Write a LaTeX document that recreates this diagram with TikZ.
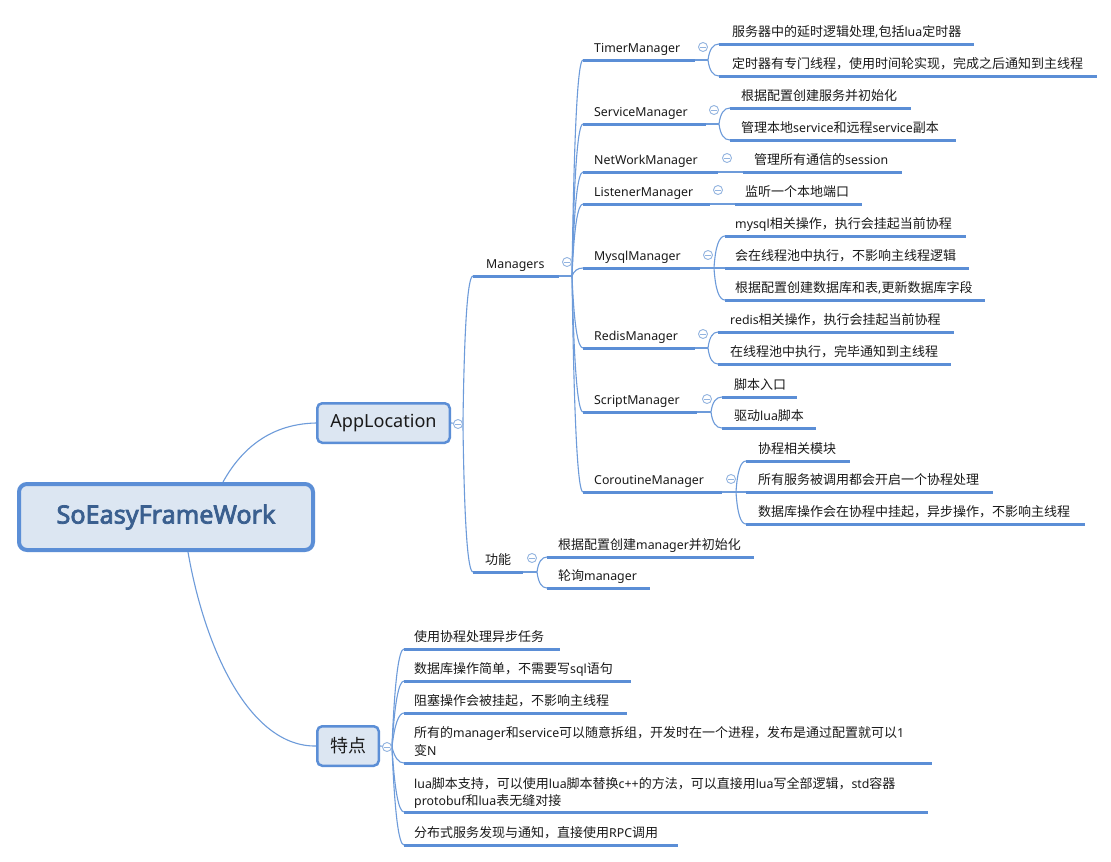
\documentclass[tikz,border=0pt]{standalone}
\usepackage{fontspec}
\usetikzlibrary{calc}
\setmainfont{Noto Sans}[Scale=0.95, AutoFakeBold=3]
\newfontfamily\cjkfont{Noto Sans CJK SC}
\XeTeXinterchartokenstate=1
\newXeTeXintercharclass\CJKcls
\makeatletter
\count@="3000 \loop\XeTeXcharclass\count@=\CJKcls\advance\count@\@ne\ifnum\count@<"3040 \repeat
\count@="4E00 \loop\XeTeXcharclass\count@=\CJKcls\advance\count@\@ne\ifnum\count@<"A000 \repeat
\count@="FF00 \loop\XeTeXcharclass\count@=\CJKcls\advance\count@\@ne\ifnum\count@<"FFF0 \repeat
\makeatother
\XeTeXinterchartoks 0 \CJKcls = {\begingroup\cjkfont}
\XeTeXinterchartoks 4095 \CJKcls = {\begingroup\cjkfont}
\XeTeXinterchartoks \CJKcls 0 = {\endgroup}
\XeTeXinterchartoks \CJKcls 4095 = {\endgroup}
\pgfdeclarelayer{back}
\pgfdeclarelayer{bg}
\pgfsetlayers{back,bg,main}
\definecolor{ulc}{HTML}{5B8ED6}
\definecolor{cnc}{HTML}{6D9BDA}
\definecolor{bxc}{HTML}{DCE6F2}
\definecolor{bdc}{HTML}{5B8ED6}
\definecolor{rtc}{HTML}{3A5F8F}
\definecolor{txc}{HTML}{1A1A1A}
\definecolor{clc}{HTML}{93B4E0}
\tikzset{
 ul/.style={draw=ulc, line width=3pt},
 conn/.style={draw=cnc, line width=1.1pt},
 lbl/.style={anchor=base west, inner sep=0pt, text=txc, font=\fontsize{13}{17.5}\selectfont},
 mlbl/.style={lbl, align=left},
 coll/.style={circle, draw=clc, fill=white, line width=0.9pt, minimum size=9pt, inner sep=0pt,
   path picture={\draw[clc, line width=0.9pt] ([xshift=-2.6pt]path picture bounding box.center) -- ([xshift=2.6pt]path picture bounding box.center);}},
 topic/.style={draw=bdc, fill=bxc, line width=2.5pt, rounded corners=5pt, text=txc, inner sep=0pt},
 qb/.style={to path={let \p1=(\tikztostart), \p2=(\tikztotarget) in
   .. controls ($(\p1)!0.6667!(\x1+#1pt,\y2)$) and ($(\p2)!0.6667!(\x1+#1pt,\y2)$) .. (\p2)}},
 qb/.default=3
}
\begin{document}
\begin{tikzpicture}[x=1pt,y=-1pt]
\begin{pgfonlayer}{back}
\fill[white] (0,0) rectangle (1111,862);
\end{pgfonlayer}
\useasboundingbox (0,0) rectangle (1111,862);

% topics
\node[topic, line width=4pt, rounded corners=8pt, minimum width=294pt, minimum height=66pt, text=rtc,
  font=\fontsize{26.5}{30}\selectfont\bfseries] (root) at (166,517) {SoEasyFrameWork};
\node[topic, minimum width=132.5pt, minimum height=39.5pt, font=\fontsize{19}{22}\selectfont] (app) at (383.5,423) {AppLocation};
\node[topic, minimum width=61.5pt, minimum height=39.5pt, font=\fontsize{18}{22}\selectfont] (td) at (348,746) {特点};

% Managers
\node[lbl] (mg) at (486,268) {Managers};
\draw[ul] (473,276) coordinate (mg-i) -- (559,276) coordinate (mg-o);

\node[lbl] (tm) at (594,52) {TimerManager};
\draw[ul] (583,60) coordinate (tm-i) -- (695,60) coordinate (tm-o);
\node[lbl] (tm1) at (732,36) {服务器中的延时逻辑处理,包括lua定时器};
\draw[ul] (719,44) coordinate (tm1-i) -- (974,44);
\node[lbl] (tm2) at (732,68) {定时器有专门线程，使用时间轮实现，完成之后通知到主线程};
\draw[ul] (719,76) coordinate (tm2-i) -- (1097,76);

\node[lbl] (sm) at (594,116) {ServiceManager};
\draw[ul] (583,124) coordinate (sm-i) -- (706,124) coordinate (sm-o);
\node[lbl] (sm1) at (741,100) {根据配置创建服务并初始化};
\draw[ul] (730,108) coordinate (sm1-i) -- (911,108);
\node[lbl] (sm2) at (741,132) {管理本地service和远程service副本};
\draw[ul] (730,140) coordinate (sm2-i) -- (956,140);

\node[lbl] (nm) at (594,164) {NetWorkManager};
\draw[ul] (583,172) coordinate (nm-i) -- (718,172) coordinate (nm-o);
\node[lbl] (nm1) at (754,164) {管理所有通信的session};
\draw[ul] (743,172) coordinate (nm1-i) -- (902,172);

\node[lbl] (lm) at (594,196) {ListenerManager};
\draw[ul] (583,204) coordinate (lm-i) -- (710,204) coordinate (lm-o);
\node[lbl] (lm1) at (745,196) {监听一个本地端口};
\draw[ul] (735,204) coordinate (lm1-i) -- (862,204);

\node[lbl] (my) at (594,260) {MysqlManager};
\draw[ul] (583,268) coordinate (my-i) -- (700,268) coordinate (my-o);
\node[lbl] (my1) at (735,228) {mysql相关操作，执行会挂起当前协程};
\draw[ul] (725,236) coordinate (my1-i) -- (966,236);
\node[lbl] (my2) at (735,260) {会在线程池中执行，不影响主线程逻辑};
\draw[ul] (725,268) coordinate (my2-i) -- (969,268);
\node[lbl] (my3) at (735,292) {根据配置创建数据库和表,更新数据库字段};
\draw[ul] (725,300) coordinate (my3-i) -- (985,300);

\node[lbl] (rm) at (594,340) {RedisManager};
\draw[ul] (583,348) coordinate (rm-i) -- (695,348) coordinate (rm-o);
\node[lbl] (rm1) at (730,324) {redis相关操作，执行会挂起当前协程};
\draw[ul] (718,332) coordinate (rm1-i) -- (954,332);
\node[lbl] (rm2) at (730,356) {在线程池中执行，完毕通知到主线程};
\draw[ul] (718,364) coordinate (rm2-i) -- (951,364);

\node[lbl] (sc) at (594,404) {ScriptManager};
\draw[ul] (583,412) coordinate (sc-i) -- (697,412) coordinate (sc-o);
\node[lbl] (sc1) at (734,389) {脚本入口};
\draw[ul] (722,397) coordinate (sc1-i) -- (797,397);
\node[lbl] (sc2) at (734,420) {驱动lua脚本};
\draw[ul] (722,428) coordinate (sc2-i) -- (816,428);

\node[lbl] (co) at (594,484) {CoroutineManager};
\draw[ul] (583,492) coordinate (co-i) -- (722,492) coordinate (co-o);
\node[lbl] (co1) at (758,453) {协程相关模块};
\draw[ul] (746,461) coordinate (co1-i) -- (850,461);
\node[lbl] (co2) at (758,484) {所有服务被调用都会开启一个协程处理};
\draw[ul] (746,492) coordinate (co2-i) -- (993,492);
\node[lbl] (co3) at (758,516) {数据库操作会在协程中挂起，异步操作，不影响主线程};
\draw[ul] (746,524) coordinate (co3-i) -- (1085,524);

% 功能
\node[lbl] (gn) at (485,564) {功能};
\draw[ul] (473,572) coordinate (gn-i) -- (523,572) coordinate (gn-o);
\node[lbl] (gn1) at (558,549) {根据配置创建manager并初始化};
\draw[ul] (547,557) coordinate (gn1-i) -- (754,557);
\node[lbl] (gn2) at (558,580) {轮询manager};
\draw[ul] (547,588) coordinate (gn2-i) -- (650,588);

% 特点
\node[lbl] (f1) at (414,641) {使用协程处理异步任务};
\draw[ul] (404,649) coordinate (f1-i) -- (560,649);
\node[lbl] (f2) at (414,673) {数据库操作简单，不需要写sql语句};
\draw[ul] (404,681) coordinate (f2-i) -- (631,681);
\node[lbl] (f3) at (414,705) {阻塞操作会被挂起，不影响主线程};
\draw[ul] (404,713) coordinate (f3-i) -- (627,713);
\node[mlbl] (f4) at (414,755) {所有的manager和service可以随意拆组，开发时在一个进程，发布是通过配置就可以1\\变N};
\draw[ul] (404,763) coordinate (f4-i) -- (932,763);
\node[mlbl] (f5) at (414,805.5) {lua脚本支持，可以使用lua脚本替换c++的方法，可以直接用lua写全部逻辑，std容器\\protobuf和lua表无缝对接};
\draw[ul] (404,812) coordinate (f5-i) -- (928,812);
\node[lbl] (f6) at (414,837) {分布式服务发现与通知，直接使用RPC调用};
\draw[ul] (404,845) coordinate (f6-i) -- (678,845);

% collapse markers
\node[coll] (app-c) at (458,424) {};
\node[coll] (td-c) at (387,747) {};
\node[coll] (mg-c) at (567,262) {};
\node[coll] (gn-c) at (532,558) {};
\node[coll] (tm-c) at (703,47) {};
\node[coll] (sm-c) at (714,110) {};
\node[coll] (nm-c) at (727,158) {};
\node[coll] (lm-c) at (718,190) {};
\node[coll] (my-c) at (708,255) {};
\node[coll] (rm-c) at (703,334) {};
\node[coll] (sc-c) at (707,399) {};
\node[coll] (co-c) at (731,479) {};

% connectors
\begin{pgfonlayer}{bg}
\draw[conn] ($(root.north)+(57,0)$) .. controls (238,455) and (265,424) .. (app.west);
\draw[conn] ($(root.south)+(22,0)$) .. controls (205,650) and (250,747) .. (td.west);
\draw[conn] (app.east) -- (app-c.east);
\draw[conn] (td.east) -- (td-c.east);
\foreach \c in {mg,gn} \draw[conn] (app-c.east) to[qb=2] (\c-i);
\foreach \c in {f1,f2,f3,f4,f5,f6} \draw[conn] (td-c.east) to[qb=4] (\c-i);
\draw[conn] (mg-o) -- (572,276) coordinate (mg-b);
\foreach \c in {tm,sm,nm,lm,my,rm,sc,co} \draw[conn] (mg-b) to[qb=3] (\c-i);
\draw[conn] (tm-o) -- (708,60) coordinate (tm-b);
\foreach \c in {tm1,tm2} \draw[conn] (tm-b) to[qb=2] (\c-i);
\draw[conn] (sm-o) -- (719,124) coordinate (sm-b);
\foreach \c in {sm1,sm2} \draw[conn] (sm-b) to[qb=2] (\c-i);
\draw[conn] (nm-o) -- (nm1-i);
\draw[conn] (lm-o) -- (lm1-i);
\draw[conn] (my-o) -- (714,268) coordinate (my-b);
\foreach \c in {my1,my2,my3} \draw[conn] (my-b) to[qb=2] (\c-i);
\draw[conn] (rm-o) -- (708,348) coordinate (rm-b);
\foreach \c in {rm1,rm2} \draw[conn] (rm-b) to[qb=2] (\c-i);
\draw[conn] (sc-o) -- (711,412) coordinate (sc-b);
\foreach \c in {sc1,sc2} \draw[conn] (sc-b) to[qb=2] (\c-i);
\draw[conn] (co-o) -- (736,492) coordinate (co-b);
\foreach \c in {co1,co2,co3} \draw[conn] (co-b) to[qb=2] (\c-i);
\draw[conn] (gn-o) -- (537,572) coordinate (gn-b);
\foreach \c in {gn1,gn2} \draw[conn] (gn-b) to[qb=2] (\c-i);
\end{pgfonlayer}
\end{tikzpicture}
\end{document}
